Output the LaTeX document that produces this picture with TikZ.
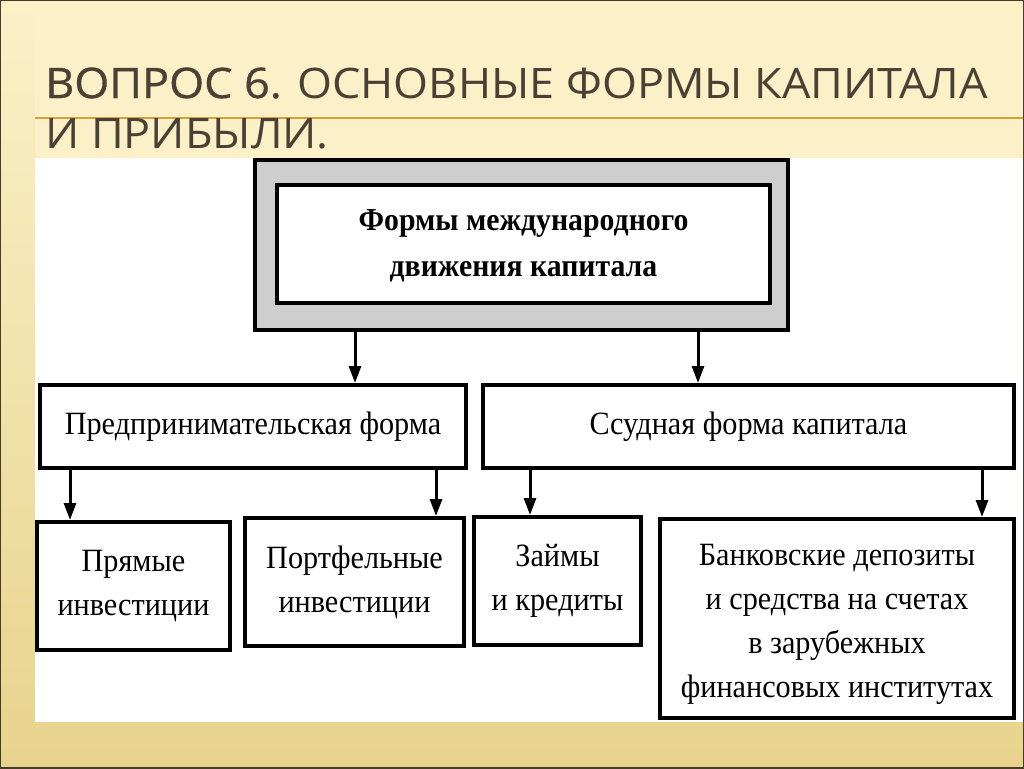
\documentclass[tikz,border=0pt]{standalone}
\usepackage{fontspec}
\setmainfont[FakeStretch=0.93]{Liberation Serif}
\newfontfamily\titlefont[FakeStretch=1.07]{Open Sans}
\usetikzlibrary{arrows.meta}

\definecolor{cream}{RGB}{251,240,200}
\definecolor{tan}{RGB}{232,211,142}
\definecolor{titlegray}{RGB}{75,64,52}
\definecolor{rule}{RGB}{214,160,60}
\definecolor{frame}{RGB}{72,60,36}
\definecolor{boxgray}{RGB}{206,206,206}

\begin{document}
\begin{tikzpicture}[x=1pt,y=-1pt,
  box/.style={draw,line width=4pt,fill=white,align=center,inner sep=0pt,
    font=\fontsize{32.5}{44}\selectfont},
  heading/.style={anchor=base west,text=titlegray,inner sep=0pt,
    font=\titlefont\fontsize{42}{50}\selectfont},
  arr/.style={line width=3pt,-{Triangle[width=12pt,length=17pt]}}]

% slide background
\useasboundingbox (0,0) rectangle (1024,768);
\shade[top color=cream,bottom color=tan] (0,0) rectangle (1024,768);
\fill[cream] (35,0) rectangle (1024,158);
\draw[rule,line width=1.5pt] (35,118) -- (1024,118);
\fill[white] (35,158) rectangle (1024,722);
\draw[frame,line width=2pt] (0,0) rectangle (1024,768);

% title
\node[heading] (title1) at (45,98)
  {{\addfontfeature{FakeBold=0.8}ВОПРОС 6.} ОСНОВНЫЕ ФОРМЫ КАПИТАЛА};
\node[heading] (title2) at (45,148) {И ПРИБЫЛИ.};

% scheme
\node[draw,line width=4pt,fill=boxgray,minimum width=533pt,minimum height=170pt]
  (top) at (521.5,245) {};
\node[box,minimum width=493pt,minimum height=118pt,font=\fontsize{32}{46}\selectfont\bfseries]
  (topin) at (523.5,244) {\parbox{480pt}{\centering\vspace*{4pt}Формы международного\\движения капитала}};

\node[box,minimum width=426pt,minimum height=83pt,font=\fontsize{32.5}{36}\selectfont]
  (pred) at (253,426.5) {Предпринимательская форма};
\node[box,minimum width=531pt,minimum height=83pt,font=\fontsize{32.5}{36}\selectfont]
  (ssud) at (748.5,426.5) {Ссудная форма капитала};

\node[box,minimum width=193pt,minimum height=128pt] (pryam) at (133.5,586)
  {Прямые\\инвестиции};
\node[box,minimum width=219pt,minimum height=128pt] (portf) at (354.5,582)
  {Портфельные\\инвестиции};
\node[box,minimum width=167pt,minimum height=128pt] (zaim) at (557.5,581)
  {Займы\\и кредиты};
\node[box,minimum width=354pt,minimum height=199pt] (bank) at (837,618.5)
  {\parbox{340pt}{\centering\vspace*{12pt}Банковские депозиты\\и средства на счетах\\в зарубежных\\финансовых институтах}};

\draw[arr] ([xshift=-166.5pt]top.south) -- ([xshift=-166.5pt]top.south |- pred.north);
\draw[arr] ([xshift=176.5pt]top.south) -- ([xshift=176.5pt]top.south |- ssud.north);
\draw[arr] ([xshift=32pt]pred.south west) -- ([xshift=32pt]pred.south west |- pryam.north);
\draw[arr] ([xshift=-32pt]pred.south east) -- ([xshift=-32pt]pred.south east |- portf.north);
\draw[arr] ([xshift=49pt]ssud.south west) -- ([xshift=49pt]ssud.south west |- zaim.north);
\draw[arr] ([xshift=-34pt]ssud.south east) -- ([xshift=-34pt]ssud.south east |- bank.north);

\end{tikzpicture}
\end{document}
